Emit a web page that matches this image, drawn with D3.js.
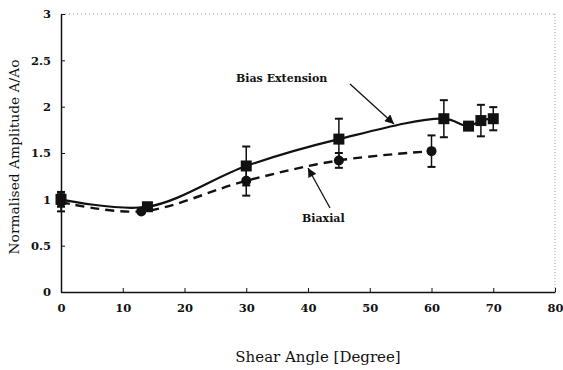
<!DOCTYPE html>
<html>
<head>
<meta charset="utf-8">
<script src="https://cdn.jsdelivr.net/npm/d3@7"></script>
<style>
  html, body { margin: 0; padding: 0; background: #fff; }
  svg { display: block; }
  text { font-family: "DejaVu Serif", "Liberation Serif", serif; fill: #111; }
</style>
</head>
<body>
<svg id="chart" width="563" height="370"></svg>
<script>
// ---- data ----
const biasAngle = [0, 14, 30, 45, 62, 66, 68, 70];
const biasValue = [1.00, 0.92, 1.36, 1.65, 1.87, 1.79, 1.85, 1.87];
const biasError = [0.08, 0, 0.21, 0.22, 0.20, 0, 0.17, 0.125];

const biaxAngle = [0, 13, 30, 45, 60];
const biaxValue = [0.97, 0.87, 1.20, 1.42, 1.52];
const biaxError = [0.10, 0, 0.16, 0.08, 0.17];

const xTicks = [0, 10, 20, 30, 40, 50, 60, 70, 80];
const yTicks = [0, 0.5, 1, 1.5, 2, 2.5, 3];
const yTickLabels = ["0", "0.5", "1", "1.5", "2", "2.5", "3"];

// ---- layout ----
const svg = d3.select("#chart");
const x = d3.scaleLinear().domain([0, 80]).range([61, 555]);
const y = d3.scaleLinear().domain([0, 3]).range([292, 14]);

// frame (dotted top & right)
svg.append("line").attr("x1", x(0)).attr("x2", x(80)).attr("y1", y(3)).attr("y2", y(3))
  .attr("stroke", "#999").attr("stroke-width", 1).attr("stroke-dasharray", "1,3");
svg.append("line").attr("x1", x(80)).attr("x2", x(80)).attr("y1", y(3)).attr("y2", y(0))
  .attr("stroke", "#999").attr("stroke-width", 1).attr("stroke-dasharray", "1,2");

// axes
const xAxis = d3.axisBottom(x).tickValues(xTicks).tickSizeInner(-4).tickSizeOuter(0).tickPadding(12);
const yAxis = d3.axisLeft(y).tickValues(yTicks).tickFormat((d, i) => yTickLabels[i])
  .tickSizeInner(-4).tickSizeOuter(0).tickPadding(12);

const gx = svg.append("g").attr("transform", `translate(0,${y(0)})`).call(xAxis);
const gy = svg.append("g").attr("transform", `translate(${x(0)},0)`).call(yAxis);
[gx, gy].forEach(g => {
  g.select(".domain").attr("stroke", "#111").attr("stroke-width", 1.5);
  g.selectAll(".tick line").attr("stroke", "#111").attr("stroke-width", 1);
  g.selectAll(".tick text").attr("font-family", "'DejaVu Sans', sans-serif")
    .attr("font-size", 11.5).attr("font-weight", "bold").attr("fill", "#111");
});
gy.selectAll(".tick text").attr("dx", 2);

// axis titles
svg.append("text").attr("x", 318).attr("y", 362).attr("text-anchor", "middle")
  .attr("font-size", 15).text("Shear Angle [Degree]");
svg.append("text").attr("transform", "translate(19,157) rotate(-90)").attr("text-anchor", "middle")
  .attr("font-size", 13.8).text("Normalised Amplitude A/Ao");

// series
const bias = biasAngle.map((a, i) => ({ a, v: biasValue[i], e: biasError[i] }));
const biax = biaxAngle.map((a, i) => ({ a, v: biaxValue[i], e: biaxError[i] }));

const line = d3.line().x(d => x(d.a)).y(d => y(d.v)).curve(d3.curveCatmullRom.alpha(0.5));

svg.append("path").datum(biax).attr("d", line).attr("fill", "none")
  .attr("stroke", "#111").attr("stroke-width", 2.4).attr("stroke-dasharray", "9,6");
svg.append("path").datum(bias).attr("d", line).attr("fill", "none")
  .attr("stroke", "#111").attr("stroke-width", 2.2);

function errorBars(data) {
  const g = svg.append("g").attr("stroke", "#111").attr("stroke-width", 1.5);
  data.filter(d => d.e > 0).forEach(d => {
    g.append("line").attr("x1", x(d.a)).attr("x2", x(d.a)).attr("y1", y(d.v - d.e)).attr("y2", y(d.v + d.e));
    [d.v - d.e, d.v + d.e].forEach(v => {
      g.append("line").attr("x1", x(d.a) - 4).attr("x2", x(d.a) + 4).attr("y1", y(v)).attr("y2", y(v))
        .attr("stroke-width", 2);
    });
  });
}
errorBars(biax);
errorBars(bias);

svg.append("g").selectAll("circle").data(biax).join("circle")
  .attr("cx", d => x(d.a)).attr("cy", d => y(d.v)).attr("r", 5).attr("fill", "#111");
svg.append("g").selectAll("rect").data(bias).join("rect")
  .attr("x", d => x(d.a) - 5.5).attr("y", d => y(d.v) - 5.5).attr("width", 11).attr("height", 11)
  .attr("fill", "#111");

// annotations
const defs = svg.append("defs");
defs.append("marker").attr("id", "arr").attr("viewBox", "0 0 10 10").attr("refX", 10).attr("refY", 5)
  .attr("markerWidth", 11).attr("markerHeight", 9).attr("markerUnits", "userSpaceOnUse").attr("orient", "auto")
  .append("path").attr("d", "M0,0 L10,5 L0,10 Z").attr("fill", "#111");

svg.append("text").attr("x", 236).attr("y", 82).attr("font-size", 11).attr("font-weight", "bold")
  .text("Bias Extension");
svg.append("line").attr("x1", 350).attr("y1", 84).attr("x2", 394).attr("y2", 124)
  .attr("stroke", "#111").attr("stroke-width", 1.3).attr("marker-end", "url(#arr)");

svg.append("text").attr("x", 302).attr("y", 222).attr("font-size", 11).attr("font-weight", "bold")
  .text("Biaxial");
svg.append("line").attr("x1", 330).attr("y1", 208).attr("x2", 308).attr("y2", 168)
  .attr("stroke", "#111").attr("stroke-width", 1.3).attr("marker-end", "url(#arr)");
</script>
</body>
</html>
